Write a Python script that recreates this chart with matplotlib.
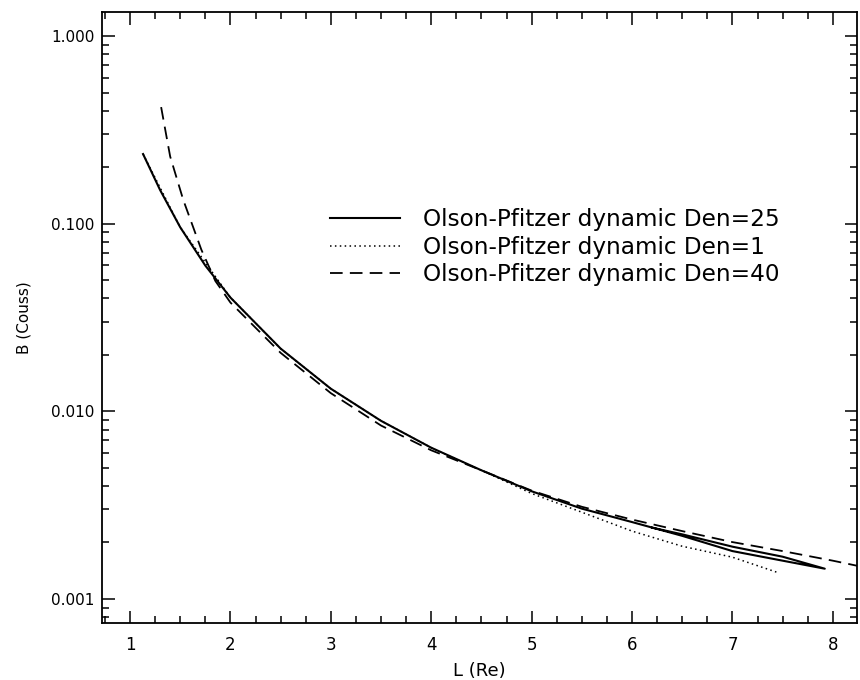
import numpy as np
import matplotlib.pyplot as plt
from matplotlib.ticker import FixedLocator, FormatStrFormatter, NullFormatter

# field strength vs L for three plasma densities
# Den=25 trace runs out along the lower branch to L~7.9 and back along the upper one
L_den25 = [1.13, 1.3, 1.5, 1.75, 2.0, 2.5, 3.0, 3.5, 4.0, 4.5, 5.0, 5.5, 6.0, 6.5,
           7.0, 7.5, 7.92, 7.5, 7.0, 6.5, 6.2]
B_den25 = [0.235, 0.151, 0.0957, 0.0598, 0.0404, 0.0216, 0.0132, 0.0089, 0.0064,
           0.00485, 0.00375, 0.00303, 0.00257, 0.00217, 0.00180, 0.00160, 0.00145,
           0.00168, 0.00190, 0.00221, 0.00240]

L_den1 = [1.13, 1.5, 2.0, 2.5, 3.0, 3.5, 4.0, 4.5, 5.0, 5.5, 6.0, 6.5, 7.0, 7.44]
B_den1 = [0.235, 0.0957, 0.0404, 0.0216, 0.0132, 0.0089, 0.0064, 0.00485, 0.00365,
          0.0029, 0.0023, 0.00191, 0.00167, 0.00139]

L_den40 = [1.31, 1.36, 1.40, 1.53, 1.71, 1.85, 2.0, 2.5, 3.0, 3.5, 4.0, 4.5, 5.0,
           5.5, 6.0, 6.5, 7.0, 7.5, 8.0, 8.25]
B_den40 = [0.418, 0.298, 0.228, 0.134, 0.0728, 0.0495, 0.038, 0.0205, 0.0125, 0.0084,
           0.0062, 0.00485, 0.00378, 0.0031, 0.00265, 0.0023, 0.00201, 0.0018, 0.0016,
           0.0015]

labels = ['Olson-Pfitzer dynamic Den=25', 'Olson-Pfitzer dynamic Den=1',
          'Olson-Pfitzer dynamic Den=40']

x_ticks = [1, 2, 3, 4, 5, 6, 7, 8]
y_ticks = [0.001, 0.01, 0.1, 1.0]

fig = plt.figure(figsize=(8.6, 6.8), dpi=100)
ax = fig.add_axes([101.5/860, 57/680, 755.5/860, 611/680])

l1, = ax.plot(L_den25, B_den25, color='k', lw=1.5, ls='-')
l2, = ax.plot(L_den1, B_den1, color='k', lw=1.1, ls=(0, (1, 2.2)))
l3, = ax.plot(L_den40, B_den40, color='k', lw=1.3, ls=(0, (7, 4)))

ax.set_yscale('log')
ax.set_xlim(0.716, 8.241)
ax.set_ylim(10**-3.128, 10**0.128)

ax.xaxis.set_major_locator(FixedLocator(x_ticks))
ax.xaxis.set_minor_locator(FixedLocator(np.arange(0.75, 8.3, 0.25)))
ax.yaxis.set_major_locator(FixedLocator(y_ticks))
ax.yaxis.set_major_formatter(FormatStrFormatter('%.3f'))
ax.yaxis.set_minor_formatter(NullFormatter())

ax.tick_params(which='both', direction='in', top=True, right=True, width=1.1)
ax.tick_params(which='major', length=9)
ax.tick_params(which='minor', length=5)
ax.tick_params(axis='x', labelsize=12, pad=9)
ax.tick_params(axis='y', labelsize=11, pad=5)
for s in ax.spines.values():
    s.set_linewidth(1.3)

ax.set_xlabel('L (Re)', fontsize=13, labelpad=6)
ax.set_ylabel('B (Couss)', fontsize=11, labelpad=14)

ax.legend([l1, l2, l3], labels, loc='upper left',
          bbox_to_anchor=(330/860, 1 - 208/680), bbox_transform=fig.transFigure,
          frameon=False, fontsize=16.7, handlelength=3.0, handletextpad=1.0,
          labelspacing=0.2, borderpad=0, borderaxespad=0)

fig.savefig('out.png', dpi=100)
